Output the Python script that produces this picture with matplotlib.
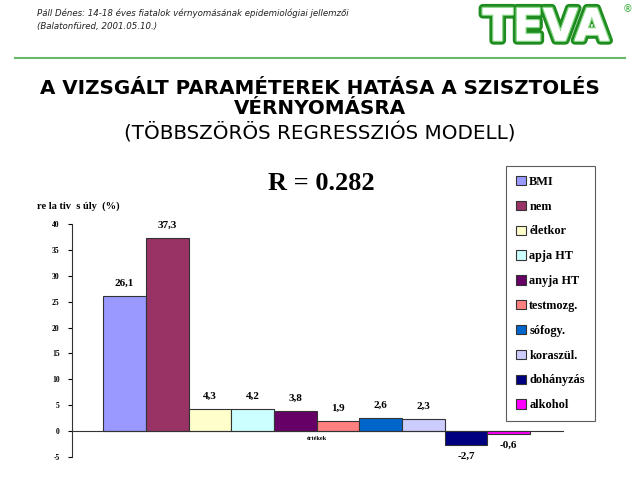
import matplotlib
matplotlib.use("Agg")
import matplotlib.pyplot as plt
import matplotlib.patheffects as pe
import numpy as np

labels = ["BMI", "nem", "életkor", "apja HT", "anyja HT", "testmozg.",
          "sófogy.", "koraszül.", "dohányzás", "alkohol"]
values = [26.1, 37.3, 4.3, 4.2, 3.8, 1.9, 2.6, 2.3, -2.7, -0.6]
value_text = ["26,1", "37,3", "4,3", "4,2", "3,8", "1,9", "2,6", "2,3", "-2,7", "-0,6"]
colors = ["#9999FF", "#993366", "#FFFFCC", "#CCFFFF", "#660066", "#FF8080",
          "#0066CC", "#CCCCFF", "#000080", "#FF00FF"]
yticks = [-5, 0, 5, 10, 15, 20, 25, 30, 35, 40]

fig = plt.figure(figsize=(6.4, 4.8), dpi=100)

# header
fig.text(37/640, 1-13/480, "Páll Dénes: 14-18 éves fiatalok vérnyomásának epidemiológiai jellemzői",
         fontsize=6.2, style="italic", family="DejaVu Sans", va="center", color="#222222")
fig.text(37/640, 1-27/480, "(Balatonfüred, 2001.05.10.)",
         fontsize=6.2, style="italic", family="DejaVu Sans", va="center", color="#222222")
logo = fig.text(546/640, 1-28/480, "TEVA", fontsize=32, weight="bold", family="DejaVu Sans",
                color="#FFFFFF", ha="center", va="center")
logo.set_path_effects([pe.withStroke(linewidth=6, foreground="#1E8C1E"),
                       pe.withStroke(linewidth=2, foreground="#8FD88F"),
                       pe.Normal()])
fig.text(628/640, 1-9/480, "®", fontsize=7, color="#33AA33", ha="center", va="center")
fig.add_artist(plt.Line2D([15/640, 625/640], [1-58/480, 1-58/480], color="#66BB66", lw=1.5))

# titles
fig.text(0.5, 1-88/480, "A VIZSGÁLT PARAMÉTEREK HATÁSA A SZISZTOLÉS",
         fontsize=14.3, weight="bold", family="DejaVu Sans", ha="center", va="center")
fig.text(0.5, 1-109/480, "VÉRNYOMÁSRA",
         fontsize=14.3, weight="bold", family="DejaVu Sans", ha="center", va="center")
fig.text(0.5, 1-133/480, "(TÖBBSZÖRÖS REGRESSZIÓS MODELL)",
         fontsize=14.3, family="DejaVu Sans", ha="center", va="center")
fig.text(321/640, 1-183/480, "R = 0.282", fontsize=19, weight="bold",
         family="Liberation Serif", ha="center", va="center")
fig.text(37/640, 1-206/480, "re la tiv  s úly  (%)", fontsize=7.5, weight="bold",
         family="Liberation Serif", va="center")

ax = fig.add_axes([72/640, 1-457/480, 491/640, 233/480])
x = np.arange(len(values))
bars = ax.bar(x, values, width=1.0, color=colors, edgecolor="#333333", linewidth=0.8)
for b, v, t in zip(bars, values, value_text):
    if v >= 0:
        ax.text(b.get_x() + 0.5, v + 1.6, t, ha="center", va="bottom", fontsize=8,
                weight="bold", family="Liberation Serif")
    else:
        ax.text(b.get_x() + 0.5, v - 1.2, t, ha="center", va="top", fontsize=8,
                weight="bold", family="Liberation Serif")

ax.set_xlim(-1.23, 10.27)
ax.set_ylim(-5, 40)
ax.set_yticks(yticks)
ax.set_yticklabels([str(t) for t in yticks], fontsize=5.5, family="Liberation Serif", weight="bold")
ax.tick_params(axis="y", length=3, width=0.8, pad=6)
ax.set_xticks([])
for s in ["top", "right"]:
    ax.spines[s].set_visible(False)
ax.spines["bottom"].set_position(("data", 0))
ax.spines["left"].set_color("#333333")
ax.spines["bottom"].set_color("#333333")
ax.text(4.5, -1.5, "értékek", ha="center", va="center", fontsize=4.5,
        family="Liberation Serif", weight="bold")

leg = ax.legend(bars, labels, loc="upper left", bbox_to_anchor=(506/640, 1-166/480),
                bbox_transform=fig.transFigure, frameon=True, fancybox=False,
                prop={"family": "Liberation Serif", "weight": "bold", "size": 8.8},
                labelspacing=1.05, handlelength=0.8, handleheight=0.8, handletextpad=0.3,
                borderpad=0.8, borderaxespad=0)
leg.get_frame().set_edgecolor("#333333")
leg.get_frame().set_linewidth(0.8)

fig.savefig("out.png", dpi=100)
